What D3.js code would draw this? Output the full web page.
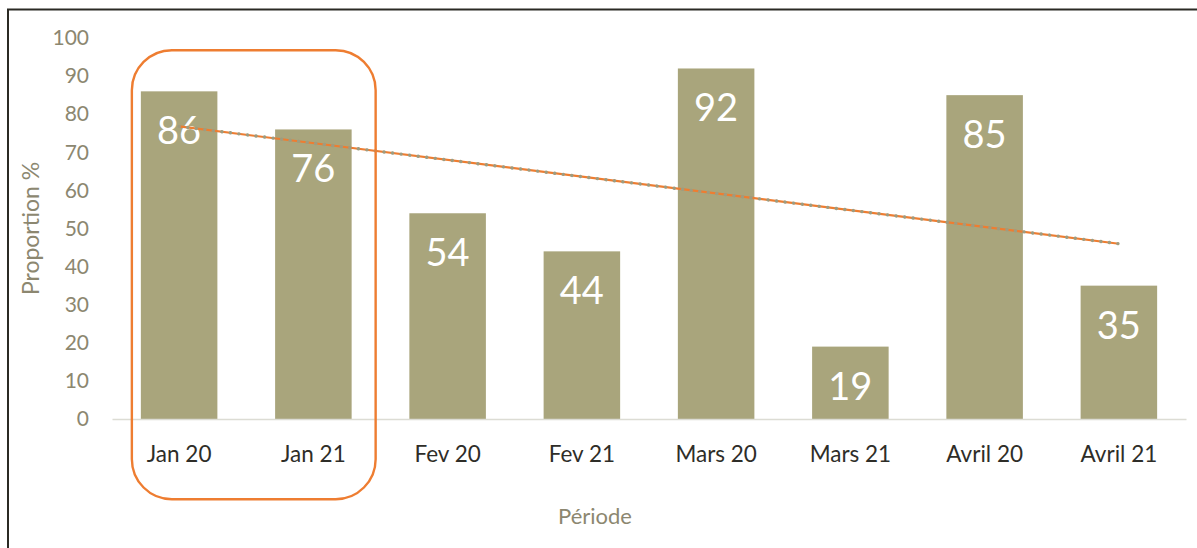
<!DOCTYPE html>
<html>
<head>
<meta charset="utf-8">
<script src="https://cdn.jsdelivr.net/npm/d3@7"></script>
<style>
  body { margin: 0; background: #fff; }
  svg text { font-family: Lato, "Open Sans", sans-serif; }
</style>
</head>
<body>
<div id="chart"></div>
<script>
// data
const periods = ["Jan 20", "Jan 21", "Fev 20", "Fev 21", "Mars 20", "Mars 21", "Avril 20", "Avril 21"];
const proportions = [86, 76, 54, 44, 92, 19, 85, 35];
const yTicks = [0, 10, 20, 30, 40, 50, 60, 70, 80, 90, 100];
// linear trend, first and last period
const trendPeriods = ["Jan 20", "Avril 21"];
const trendValues = [76.8, 46.0];
const highlighted = ["Jan 20", "Jan 21"];

const width = 1197, height = 548;
const margin = {top: 38, right: 11, bottom: 129, left: 112};

const svg = d3.select('#chart').append('svg')
    .attr('width', width)
    .attr('height', height);

// frame (only top and left show)
svg.append('rect')
    .attr('x', 8).attr('y', 9.5)
    .attr('width', width + 20).attr('height', height + 20)
    .attr('fill', 'none')
    .attr('stroke', '#2b2a24')
    .attr('stroke-width', 2);

const x = d3.scaleBand(periods, [margin.left, width - margin.right])
    .paddingInner(0.43).paddingOuter(0.215);
const y = d3.scaleLinear([0, 100], [height - margin.bottom, margin.top]);

// y axis labels
const yAxis = svg.append('g')
    .attr('transform', `translate(${margin.left},0)`)
    .call(d3.axisLeft(y).tickValues(yTicks).tickSize(0).tickPadding(23));
yAxis.select('.domain').remove();
yAxis.selectAll('text')
    .attr('fill', '#8c8770')
    .style('font-size', '21px');

// bars
svg.append('g').selectAll('rect.bar')
    .data(periods)
    .join('rect')
    .classed('bar', true)
    .attr('x', d => x(d))
    .attr('y', (d, i) => y(proportions[i]))
    .attr('width', x.bandwidth())
    .attr('height', (d, i) => y(0) - y(proportions[i]))
    .attr('fill', '#a9a57c');

// x axis
const xAxis = svg.append('g')
    .attr('transform', `translate(0,${y(0)})`)
    .call(d3.axisBottom(x).tickSize(0).tickPadding(27));
xAxis.select('.domain')
    .attr('stroke', '#dcdcd4')
    .attr('stroke-width', 1.5);
xAxis.selectAll('text')
    .attr('fill', '#2e2d28')
    .style('font-size', '22.5px');

// value labels
svg.append('g').selectAll('text')
    .data(periods)
    .join('text')
    .attr('x', d => x(d) + x.bandwidth() / 2)
    .attr('y', (d, i) => y(proportions[i]) + 53)
    .attr('text-anchor', 'middle')
    .attr('fill', '#fff')
    .style('font-size', '38px')
    .text((d, i) => proportions[i]);

// trend line
const trendPts = trendPeriods.map((p, i) => [x(p) + x.bandwidth() / 2, y(trendValues[i])]);
const line = d3.line();
svg.append('path')
    .attr('d', line(trendPts))
    .attr('stroke', '#ee7d31')
    .attr('stroke-width', 2.2)
    .attr('fill', 'none');
svg.append('path')
    .attr('d', line(trendPts))
    .attr('stroke', '#9e9c80')
    .attr('stroke-width', 3.4)
    .attr('stroke-linecap', 'round')
    .attr('stroke-dasharray', '0.1,8.5')
    .attr('fill', 'none');

// highlight box round the first two periods
const hx0 = x(highlighted[0]) - 9;
const hx1 = x(highlighted[1]) + x.bandwidth() + 24;
svg.append('rect')
    .attr('x', hx0)
    .attr('y', y(96.8))
    .attr('width', hx1 - hx0)
    .attr('height', 449)
    .attr('rx', 40)
    .attr('fill', 'none')
    .attr('stroke', '#ee7d31')
    .attr('stroke-width', 2.4);

// axis titles
svg.append('text')
    .attr('transform', `translate(39,${(y(0) + y(100)) / 2}) rotate(-90)`)
    .attr('text-anchor', 'middle')
    .attr('fill', '#8c8770')
    .style('font-size', '23px')
    .text('Proportion %');

svg.append('text')
    .attr('x', (margin.left + width - margin.right) / 2 - 54)
    .attr('y', 524)
    .attr('text-anchor', 'middle')
    .attr('fill', '#8c8770')
    .style('font-size', '22px')
    .text('Période');
</script>
</body>
</html>
